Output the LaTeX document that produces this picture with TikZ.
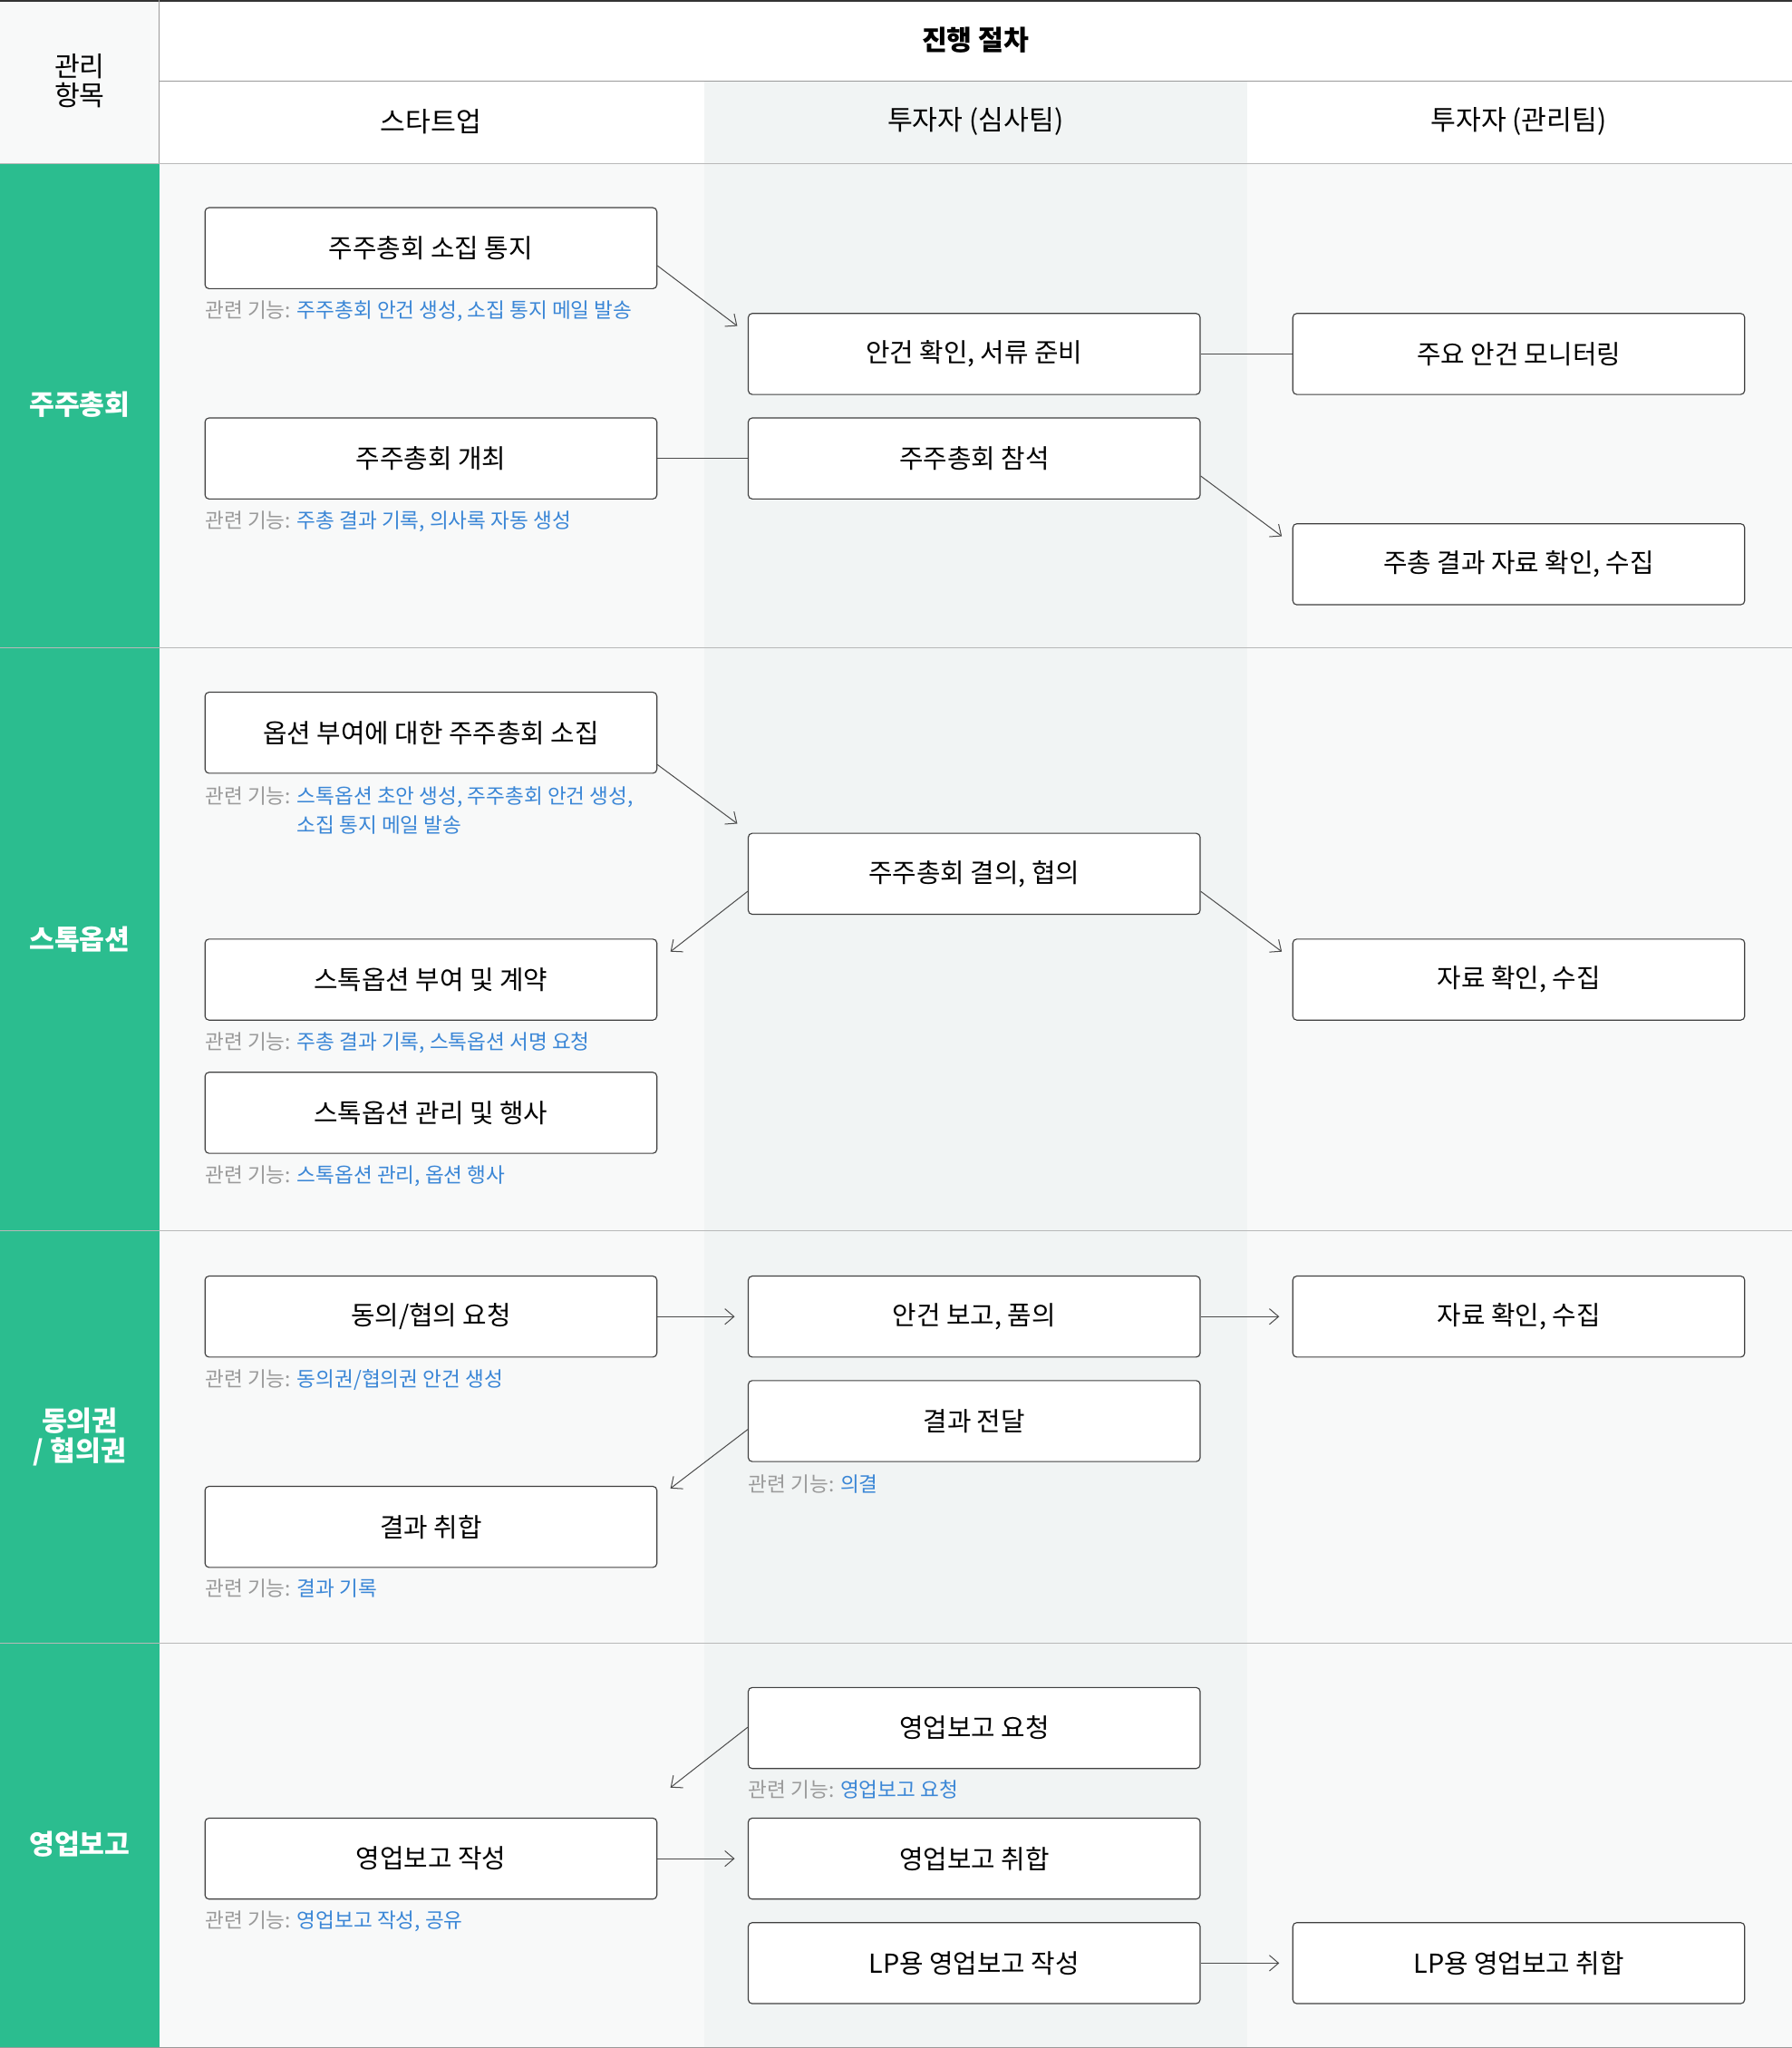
\documentclass[tikz,border=0pt]{standalone}
\usepackage{fontspec}
\setmainfont{Noto Sans CJK KR}
\usetikzlibrary{arrows.meta,calc}
\definecolor{grn}{HTML}{2BBD8F}
\definecolor{lbg}{HTML}{F8F9F9}
\definecolor{mbg}{HTML}{F1F4F4}
\definecolor{lnk}{HTML}{3A86D6}
\definecolor{gtx}{HTML}{9A9A9A}
\definecolor{ln}{HTML}{9A9A9A}
\tikzset{
 pbox/.style={draw=black!75,line width=0.8pt,fill=white,rounded corners=3pt,minimum width=346pt,minimum height=62pt,font=\fontsize{20}{24}\selectfont,inner sep=0pt},
 flab/.style={anchor=north west,inner sep=0pt,font=\fontsize{15.7}{22}\selectfont,align=left},
 hd/.style={font=\fontsize{21}{26}\selectfont},
 sec/.style={font=\bfseries\fontsize{21}{26}\selectfont,text=white,align=center},
 conn/.style={draw=black!70,line width=0.7pt},
 arr/.style={conn,-{Straight Barb[length=7pt,width=12pt,line width=0.7pt]}}
}
\newcommand{\fl}[1]{{\color{gtx}관련 기능: }{\color{lnk}#1}}
\begin{document}
\begin{tikzpicture}[x=1pt,y=-1pt]
\useasboundingbox (0,0) rectangle (1372,1568);
% backgrounds
\fill[lbg] (0,0) rectangle (122,125);
\fill[lbg] (122,125) rectangle (1372,1568);
\fill[mbg] (539,62) rectangle (955,1568);
\fill[white] (122,62) rectangle (539,125);
\fill[white] (955,62) rectangle (1372,125);
\fill[grn] (0,125) rectangle (122,1568);
% lines
\draw[black!80,line width=1.2pt] (0,0.6) -- (1372,0.6);
\draw[ln,line width=0.8pt] (122,0) -- (122,125);
\draw[ln,line width=0.8pt] (122,62) -- (1372,62);
\foreach \yy in {125,496,942,1258} \draw[ln!70,line width=0.8pt] (0,\yy) -- (1372,\yy);
\draw[ln,line width=0.8pt] (0,1567.5) -- (1372,1567.5);
% headers
\node[hd,align=center] (h0) at (61,62) {관리\\[-4pt]항목};
\node[hd,font=\bfseries\fontsize{21}{26}\selectfont] (h1) at (747,31) {진행 절차};
\node[hd] (h2) at (330,93) {스타트업};
\node[hd] (h3) at (747,93) {투자자 (심사팀)};
\node[hd] (h4) at (1163,93) {투자자 (관리팀)};
% sections
\node[sec] (s1) at (61,310) {주주총회};
\node[sec] (s2) at (61,719) {스톡옵션};
\node[sec] (s3) at (61,1100) {동의권\\[-3pt]/ 협의권};
\node[sec] (s4) at (61,1412) {영업보고};
% section 1
\node[pbox] (a1) at (330,190) {주주총회 소집 통지};
\node[flab] (f1) at (157,230) {\fl{주주총회 안건 생성, 소집 통지 메일 발송}};
\node[pbox] (a2) at (330,351) {주주총회 개최};
\node[flab] (f2) at (157,391) {\fl{주총 결과 기록, 의사록 자동 생성}};
\node[pbox] (b1) at (746,271) {안건 확인, 서류 준비};
\node[pbox] (b2) at (746,351) {주주총회 참석};
\node[pbox] (c1) at (1163,271) {주요 안건 모니터링};
\node[pbox] (c2) at (1163,432) {주총 결과 자료 확인, 수집};
\draw[arr] ($(a1.south east)+(0,-18)$) -- ($(b1.north west)+(-8,10)$);
\draw[conn] (b1.east) -- (c1.west);
\draw[conn] (a2.east) -- (b2.west);
\draw[arr] ($(b2.south east)+(0,-18)$) -- ($(c2.north west)+(-8,10)$);
% section 2
\node[pbox] (a3) at (330,561) {옵션 부여에 대한 주주총회 소집};
\node[flab] (f3) at (157,602) {{\color{gtx}관련 기능: }{\color{lnk}스톡옵션 초안 생성, 주주총회 안건 생성,}\\\hphantom{관련 기능: }{\color{lnk}소집 통지 메일 발송}};
\node[pbox] (b3) at (746,669) {주주총회 결의, 협의};
\node[pbox] (a4) at (330,750) {스톡옵션 부여 및 계약};
\node[flab] (f4) at (157,790) {\fl{주총 결과 기록, 스톡옵션 서명 요청}};
\node[pbox] (a5) at (330,852) {스톡옵션 관리 및 행사};
\node[flab] (f5) at (157,892) {\fl{스톡옵션 관리, 옵션 행사}};
\node[pbox] (c3) at (1163,750) {자료 확인, 수집};
\draw[arr] ($(a3.south east)+(0,-7)$) -- ($(b3.north west)+(-8,-7)$);
\draw[arr] ($(b3.south west)+(0,-18)$) -- ($(a4.north east)+(10,10)$);
\draw[arr] ($(b3.south east)+(0,-18)$) -- ($(c3.north west)+(-8,10)$);
% section 3
\node[pbox] (a6) at (330,1008) {동의/협의 요청};
\node[flab] (f6) at (157,1048) {\fl{동의권/협의권 안건 생성}};
\node[pbox] (b4) at (746,1008) {안건 보고, 품의};
\node[pbox] (c4) at (1163,1008) {자료 확인, 수집};
\node[pbox] (b5) at (746,1088) {결과 전달};
\node[flab] (f7) at (573,1129) {\fl{의결}};
\node[pbox] (a7) at (330,1169) {결과 취합};
\node[flab] (f8) at (157,1209) {\fl{결과 기록}};
\draw[arr] (a6.east) -- ($(b4.west)+(-10,0)$);
\draw[arr] (b4.east) -- ($(c4.west)+(-10,0)$);
\draw[arr] ($(b5.south west)+(0,-25)$) -- ($(a7.north east)+(10,2)$);
% section 4
\node[pbox] (b6) at (746,1323) {영업보고 요청};
\node[flab] (f9) at (573,1363) {\fl{영업보고 요청}};
\node[pbox] (a8) at (330,1423) {영업보고 작성};
\node[flab] (f10) at (157,1463) {\fl{영업보고 작성, 공유}};
\node[pbox] (b7) at (746,1423) {영업보고 취합};
\node[pbox] (b8) at (746,1503) {LP용 영업보고 작성};
\node[pbox] (c5) at (1163,1503) {LP용 영업보고 취합};
\draw[arr] ($(b6.south west)+(0,-32)$) -- ($(a8.north east)+(10,-23)$);
\draw[arr] (a8.east) -- ($(b7.west)+(-10,0)$);
\draw[arr] (b8.east) -- ($(c5.west)+(-10,0)$);
\end{tikzpicture}
\end{document}
